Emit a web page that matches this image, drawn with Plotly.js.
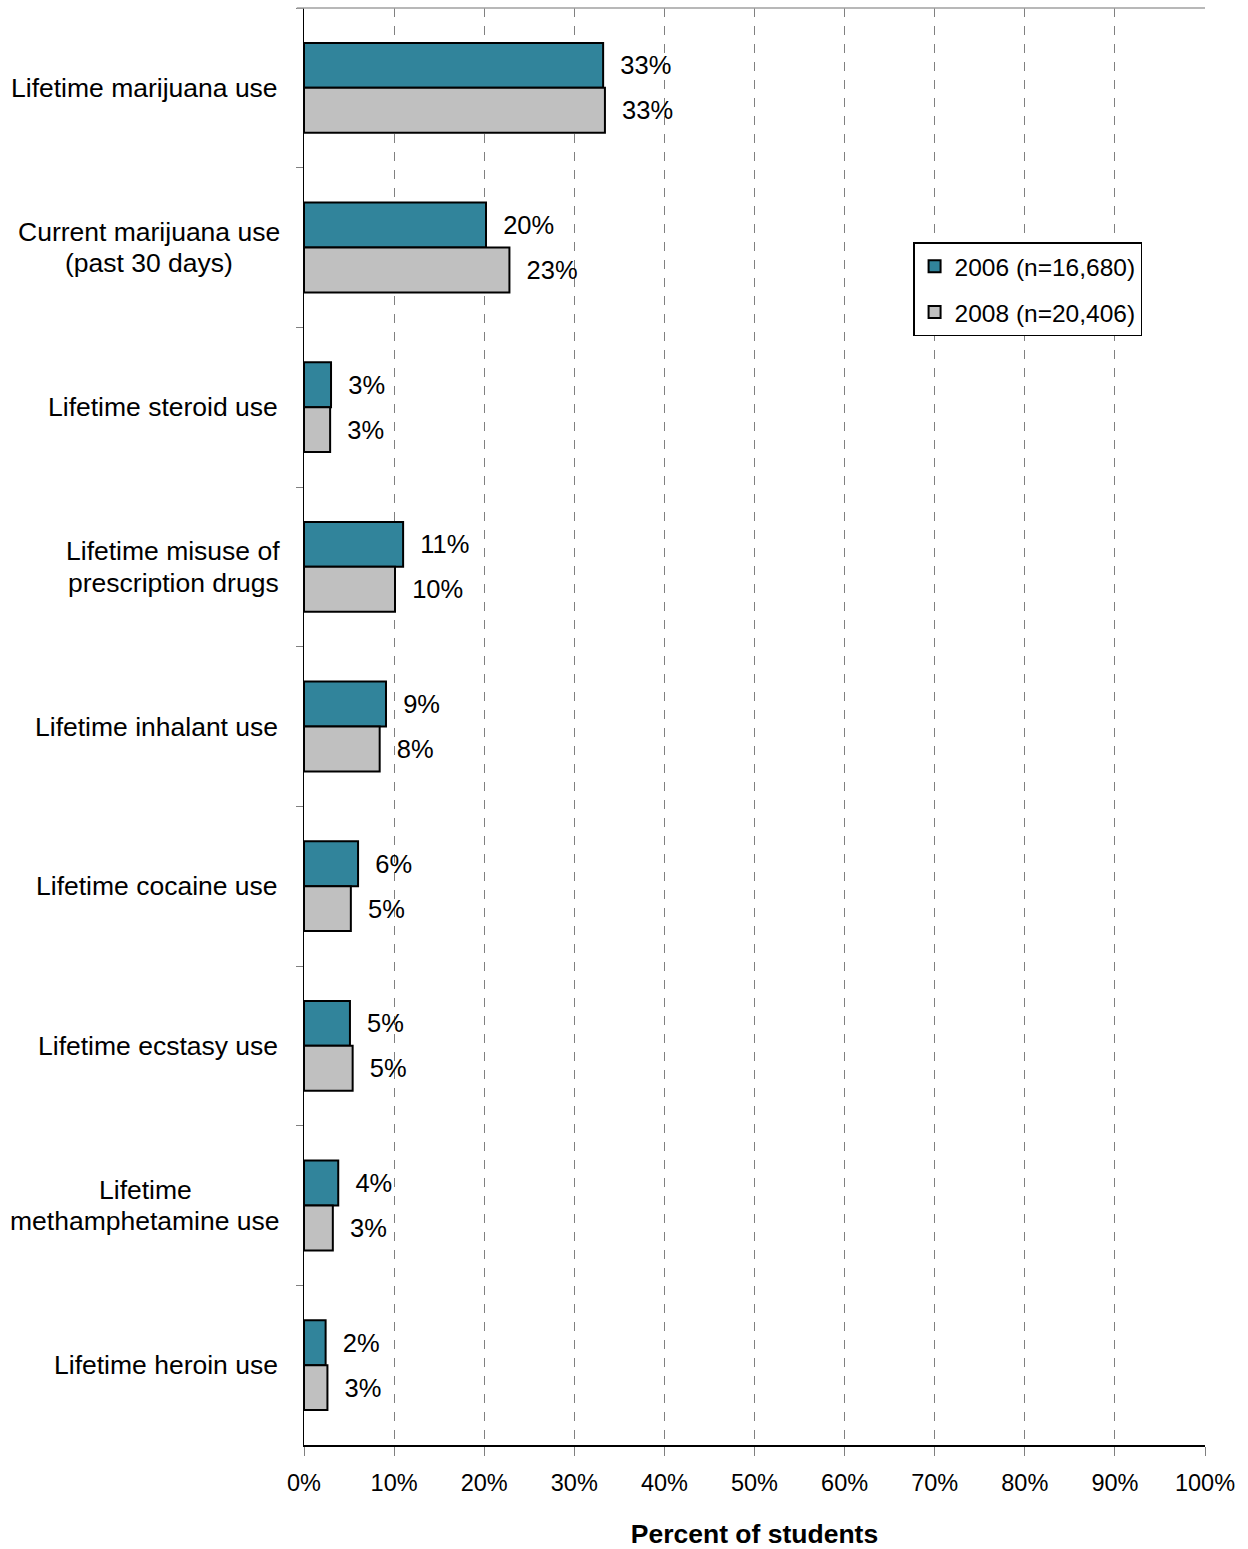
<!DOCTYPE html>
<html>
<head>
<meta charset="utf-8">
<script src="https://cdn.plot.ly/plotly-3.0.1.min.js"></script>
<style>body{margin:0;padding:0;background:#fff;} #chart{width:1248px;height:1549px;}</style>
</head>
<body>
<div id="chart"></div>
<script>
const categories = [
  "Lifetime marijuana use",
  "Current marijuana use<br>(past 30 days)",
  "Lifetime steroid use",
  "Lifetime misuse of<br>prescription drugs",
  "Lifetime inhalant use",
  "Lifetime cocaine use",
  "Lifetime ecstasy use",
  "Lifetime<br>methamphetamine use",
  "Lifetime heroin use"
];
const values2006 = [33.2, 20.2, 3.0, 11.0, 9.1, 6.0, 5.1, 3.8, 2.4];
const values2008 = [33.4, 22.8, 2.9, 10.1, 8.4, 5.2, 5.4, 3.2, 2.6];
const labels2006 = ["33%", "20%", "3%", "11%", "9%", "6%", "5%", "4%", "2%"];
const labels2008 = ["33%", "23%", "3%", "10%", "8%", "5%", "5%", "3%", "3%"];
const seriesNames = ["2006 (n=16,680)", "2008 (n=20,406)"];
const xTickValues = [0, 10, 20, 30, 40, 50, 60, 70, 80, 90, 100];
const xTickLabels = ["0%", "10%", "20%", "30%", "40%", "50%", "60%", "70%", "80%", "90%", "100%"];

const FONT = "Liberation Sans, Arial, sans-serif";

const traces = [
  {
    type: "bar", orientation: "h", name: seriesNames[0], legendgroup: "a",
    x: values2006, y: categories, text: labels2006,
    texttemplate: "\u00a0\u00a0%{text}", textposition: "outside", constraintext: "none",
    cliponaxis: false,
    textfont: {family: FONT, size: 25.5, color: "#000"},
    marker: {color: "#31849B", line: {color: "#000", width: 2}},
    hoverinfo: "skip"
  },
  {
    type: "bar", orientation: "h", name: seriesNames[1], legendgroup: "b",
    x: values2008, y: categories, text: labels2008,
    texttemplate: "\u00a0\u00a0%{text}", textposition: "outside", constraintext: "none",
    cliponaxis: false,
    textfont: {family: FONT, size: 25.5, color: "#000"},
    marker: {color: "#C0C0C0", line: {color: "#000", width: 2}},
    hoverinfo: "skip"
  }
];

// category labels drawn line by line, centred within each label block
const LINE_H = 31.5;
const annotations = [];
categories.forEach(c => {
  const lines = c.split("<br>");
  const n = lines.length;
  lines.forEach((line, i) => {
    annotations.push({
      xref: "paper", yref: "y", x: -0.0265, y: c, text: line,
      xanchor: n > 1 ? "center" : "right", yanchor: "middle", align: "center", showarrow: false,
      yshift: ((n - 1) / 2 - i) * LINE_H,
      font: {family: FONT, size: 26.5, color: "#000"}
    });
  });
});

function fixCenters(){
  const cv = document.createElement("canvas").getContext("2d");
  cv.font = "26.5px 'Liberation Sans', Arial, sans-serif";
  const plotW = 1248 - 304 - 43;
  const rightPx = -0.0265 * plotW;
  annotations.forEach(a => {
    if (a.xanchor === "center") {
      const siblings = annotations.filter(b => b.y === a.y);
      const w = Math.max(...siblings.map(b => cv.measureText(b.text).width));
      a.x = (rightPx - w / 2) / plotW;
    }
  });
}

const layout = {
  width: 1248, height: 1549,
  margin: {l: 304, r: 43, t: 8, b: 104},
  paper_bgcolor: "#fff", plot_bgcolor: "#fff",
  font: {family: FONT, size: 24, color: "#000"},
  barmode: "group",
  bargap: 0.4375, bargroupgap: 0,
  showlegend: true,
  legend: {
    x: 0.676, y: 0.837, xanchor: "left", yanchor: "top",
    bgcolor: "#fff", bordercolor: "#000", borderwidth: 1.5,
    font: {family: FONT, size: 24.5, color: "#000"},
    tracegroupgap: 11, traceorder: "grouped"
  },
  xaxis: {
    range: [0, 100], tickmode: "array", tickvals: xTickValues, ticktext: xTickLabels,
    showgrid: true, gridcolor: "#808080", griddash: "dash", gridwidth: 1,
    zeroline: false, showline: true, linecolor: "#000", linewidth: 1.5,
    ticks: "outside", ticklen: 9, tickcolor: "#808080", tickwidth: 1,
    ticklabelstandoff: 7,
    tickfont: {family: FONT, size: 23.5, color: "#000"},
    automargin: false,
    title: {text: "<b>Percent of students</b>", font: {family: FONT, size: 26.5, color: "#000"}, standoff: 31},
    fixedrange: true
  },
  yaxis: {
    type: "category", autorange: "reversed",
    showticklabels: false, showgrid: false, zeroline: false,
    showline: true, linecolor: "#000", linewidth: 1.5,
    ticks: "outside", tickson: "boundaries", ticklen: 7, tickcolor: "#808080",
    automargin: false, fixedrange: true
  },
  shapes: [
    {type: "line", xref: "paper", yref: "paper", x0: -0.008, x1: 1, y0: 1, y1: 1,
     line: {color: "#A0A0A0", width: 1.5}}
  ],
  annotations: annotations
};

function draw(){
  fixCenters();
  Plotly.newPlot("chart", traces, layout, {displayModeBar: false, staticPlot: true});
}
if (document.fonts && document.fonts.ready) { document.fonts.ready.then(draw); } else { draw(); }
</script>
</body>
</html>
